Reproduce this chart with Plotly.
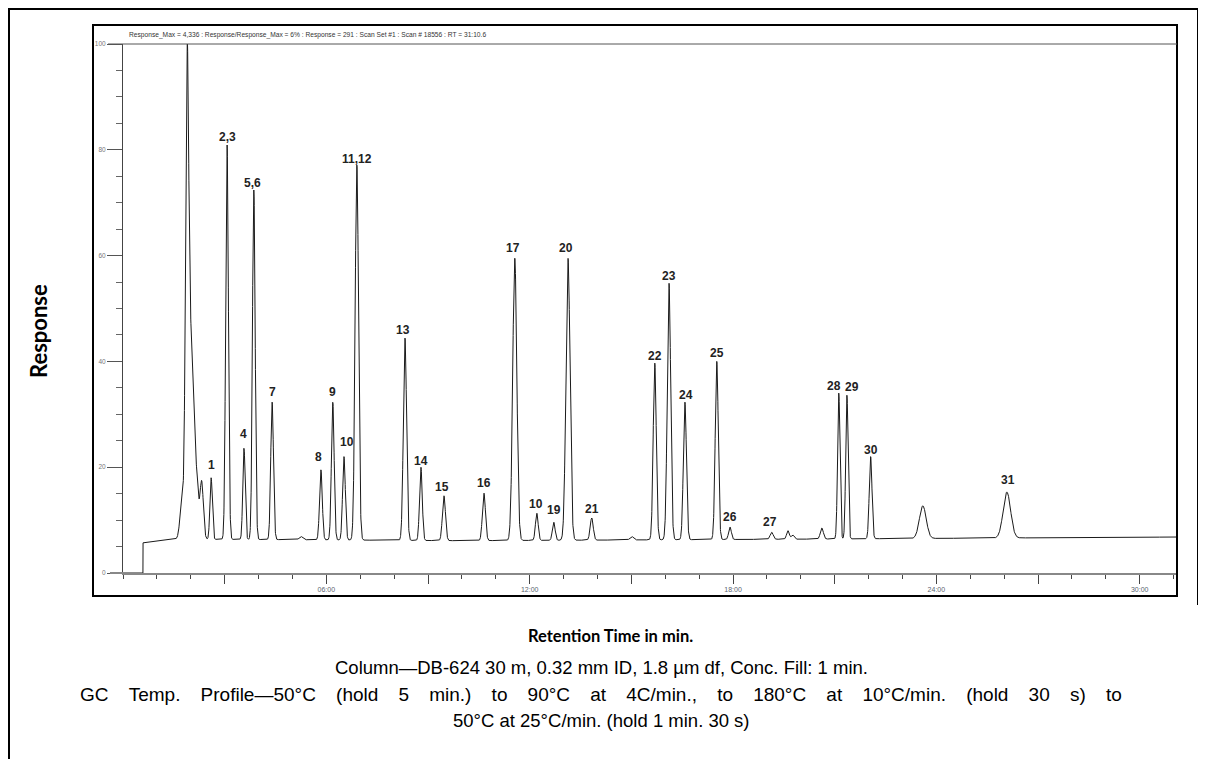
import numpy as np
import plotly.graph_objects as go

# ---------------- data ----------------
# peak table: retention time (min), apex response (% of max), width (sigma, min)
peak_rt = [1.74, 1.89, 2.00, 2.18, 2.32, 2.60, 3.07, 3.57, 3.86, 4.40, 5.25,
           5.84, 6.19, 6.52, 6.90, 8.32, 8.79, 9.47, 10.65, 11.56, 12.21, 12.71,
           13.13, 13.83, 15.01, 15.69, 16.11, 16.58, 17.52, 17.91, 19.14, 19.62,
           19.76, 20.62, 21.12, 21.36, 22.06, 23.60, 26.08]
peak_apex = [14.0, 100.0, 48.0, 19.0, 17.5, 18.0, 81.0, 23.6, 72.4, 32.3, 6.9,
             19.5, 32.3, 22.0, 77.1, 44.4, 20.0, 14.6, 15.1, 59.5, 11.3, 9.6,
             59.5, 10.4, 6.9, 39.7, 54.8, 32.3, 40.0, 8.7, 7.7, 8.0,
             7.2, 8.5, 34.0, 33.6, 22.0, 12.7, 15.3]
peak_sigma = [0.06, 0.045, 0.09, 0.05, 0.05, 0.035, 0.04, 0.035, 0.04, 0.04, 0.05,
              0.04, 0.04, 0.04, 0.05, 0.047, 0.04, 0.045, 0.045, 0.06, 0.04, 0.04,
              0.06, 0.045, 0.05, 0.045, 0.05, 0.045, 0.045, 0.04, 0.045, 0.04,
              0.04, 0.045, 0.035, 0.035, 0.04, 0.10, 0.11]

# baseline knots (min, response)
base_t = [0.59, 1.50, 5.0, 10.0, 20.0, 31.1]
base_v = [5.7, 6.4, 6.3, 6.1, 6.4, 6.8]
trace_start = 0.59   # signal step-up time
t_end = 31.1

# peak labels
label_text = ["1", "2,3", "4", "5,6", "7", "8", "9", "10", "11,12", "13", "14", "15",
              "16", "17", "10", "19", "20", "21", "22", "23", "24", "25", "26", "27",
              "28", "29", "30", "31"]
label_x = [2.60, 3.07, 3.57, 3.83, 4.40, 5.78, 6.19, 6.61, 6.90, 8.26, 8.79, 9.41,
           10.65, 11.50, 12.18, 12.71, 13.07, 13.83, 15.69, 16.11, 16.61, 17.52, 17.91,
           19.09, 20.97, 21.50, 22.06, 26.10]
label_y = [20.4, 82.4, 26.3, 73.7, 34.2, 21.9, 34.2, 24.8, 78.3, 45.9, 21.2, 16.3,
           17.0, 61.4, 13.0, 11.9, 61.4, 12.1, 41.0, 56.1, 33.6, 41.6, 10.6,
           9.6, 35.3, 35.2, 23.3, 17.6]

x_major = [3, 6, 9, 12, 15, 18, 21, 24, 27, 30]
x_major_text = ["", "06:00", "", "12:00", "", "18:00", "", "24:00", "", "30:00"]
y_major = [0, 20, 40, 60, 80, 100]

header = ("Response_Max = 4,336 : Response/Response_Max = 6% : Response = 291 : "
          "Scan Set #1 : Scan # 18556 : RT = 31:10.6")
caption_1 = "Column\u2014DB-624 30 m, 0.32 mm ID, 1.8 \u00b5m df, Conc. Fill: 1 min."
caption_2_words = ["GC", "Temp.", "Profile\u201450\u00b0C", "(hold", "5", "min.)", "to", "90\u00b0C",
                   "at", "4C/min.,", "to", "180\u00b0C", "at", "10\u00b0C/min.", "(hold", "30", "s)", "to"]
caption_3 = "50\u00b0C at 25\u00b0C/min. (hold 1 min. 30 s)"

# ---------------- build chromatogram ----------------
t = np.arange(0.0, t_end + 1e-9, 0.004)
base = np.interp(t, base_t, base_v)
sig = np.where(t >= trace_start, base, 0.0)
rt = np.array(peak_rt)
sg = np.array(peak_sigma)
target = np.array(peak_apex) - np.interp(peak_rt, base_t, base_v)
G = np.exp(-0.5 * ((rt[:, None] - rt[None, :]) / sg[None, :]) ** 2)
amps = np.linalg.solve(G, target)          # amplitudes so overlapping peaks reach read apexes
for a, r, s in zip(amps, rt, sg):
    sig = sig + a * np.exp(-0.5 * ((t - r) / s) ** 2)

# ---------------- layout geometry (screen pixels; page body has an 8px margin) ----------------
OFF = 8
W, H = 1206 - OFF, 759 - OFF
Ls, Rs, Ts, Bs = 123, 1177, 44, 573   # plot area in screen pixels


def px(x):
    return (x - Ls) / (Rs - Ls)


def py(y):
    return (Bs - y) / (Bs - Ts)


fig = go.Figure()
fig.add_trace(go.Scatter(x=t, y=sig, mode="lines",
                         line=dict(color="#1a1a1a", width=1), hoverinfo="skip",
                         showlegend=False))

shapes = []
# outer frame (left, top, right)
shapes.append(dict(type="line", xref="paper", yref="paper", x0=px(9), x1=px(9), y0=py(8), y1=py(780),
                   line=dict(color="black", width=2)))
shapes.append(dict(type="line", xref="paper", yref="paper", x0=px(8), x1=px(1199), y0=py(9), y1=py(9),
                   line=dict(color="black", width=2)))
shapes.append(dict(type="line", xref="paper", yref="paper", x0=px(1198), x1=px(1198), y0=py(8), y1=py(605),
                   line=dict(color="black", width=2)))
# inner chart box
shapes.append(dict(type="rect", xref="paper", yref="paper", x0=px(93), x1=px(Rs), y0=py(25), y1=py(596),
                   line=dict(color="black", width=2)))
# top line at 100 %
shapes.append(dict(type="line", xref="paper", yref="paper", x0=px(108), x1=1, y0=1, y1=1,
                   line=dict(color="#555", width=1)))
# x axis extension to the left
shapes.append(dict(type="line", xref="paper", yref="paper", x0=px(110), x1=0, y0=0, y1=0,
                   line=dict(color="#888", width=2)))

ann = []
for txt, xv, yv in zip(label_text, label_x, label_y):
    ann.append(dict(x=xv, y=yv, xref="x", yref="y", text="<b>" + txt + "</b>", showarrow=False,
                    font=dict(family="Liberation Sans", size=12, color="#222"),
                    xanchor="center", yanchor="middle"))
ann.append(dict(x=px(127), y=py(35), xref="paper", yref="paper", text=header, showarrow=False,
                xanchor="left", yanchor="middle",
                font=dict(family="Liberation Sans", size=6.65, color="#333")))
ann.append(dict(x=px(38), y=py(331), xref="paper", yref="paper", text="<b>Response</b>", showarrow=False,
                textangle=-90, xanchor="center", yanchor="middle",
                font=dict(family="Lato", size=22, color="black")))
ann.append(dict(x=px(610), y=py(636), xref="paper", yref="paper", text="<b>Retention Time in min.</b>",
                showarrow=False, xanchor="center", yanchor="middle",
                font=dict(family="Lato", size=16.5, color="black")))
gap = " \u2002\u2009\u200a"   # justified line: widened word spacing
caption_2 = gap.join(caption_2_words)
for line, yy, fs in zip([caption_1, caption_2, caption_3], [667, 694, 720], [18.5, 19, 18.5]):
    ann.append(dict(x=px(601), y=py(yy), xref="paper", yref="paper", text=line, showarrow=False,
                    xanchor="center", yanchor="middle",
                    font=dict(family="Liberation Sans", size=fs, color="black")))

fig.update_layout(
    width=W, height=H, autosize=False,
    margin=dict(l=Ls - OFF, r=W - (Rs - OFF), t=Ts - OFF, b=H - (Bs - OFF), pad=0),
    paper_bgcolor="white", plot_bgcolor="white",
    shapes=shapes, annotations=ann, showlegend=False,
    xaxis=dict(range=[0, t_end], showgrid=False, zeroline=False,
               showline=True, linecolor="#888", linewidth=2,
               tickmode="array", tickvals=x_major, ticktext=x_major_text,
               ticks="outside", ticklen=9, tickwidth=1, tickcolor="#444",
               tickfont=dict(family="Liberation Sans", size=7, color="#5a6470"),
               minor=dict(dtick=1, ticks="outside", ticklen=4, tickcolor="#444", tickwidth=1, showgrid=False),
               fixedrange=True),
    yaxis=dict(range=[0, 100], showgrid=False, zeroline=False,
               showline=True, linecolor="#444", linewidth=1,
               tickmode="array", tickvals=y_major,
               ticks="outside", ticklen=15, tickwidth=1, tickcolor="#555",
               tickfont=dict(family="Liberation Sans", size=6.5, color="#777"),
               minor=dict(dtick=5, ticks="outside", ticklen=6, tickcolor="#666", tickwidth=1, showgrid=False),
               fixedrange=True),
)

fig.write_html("out.html")
